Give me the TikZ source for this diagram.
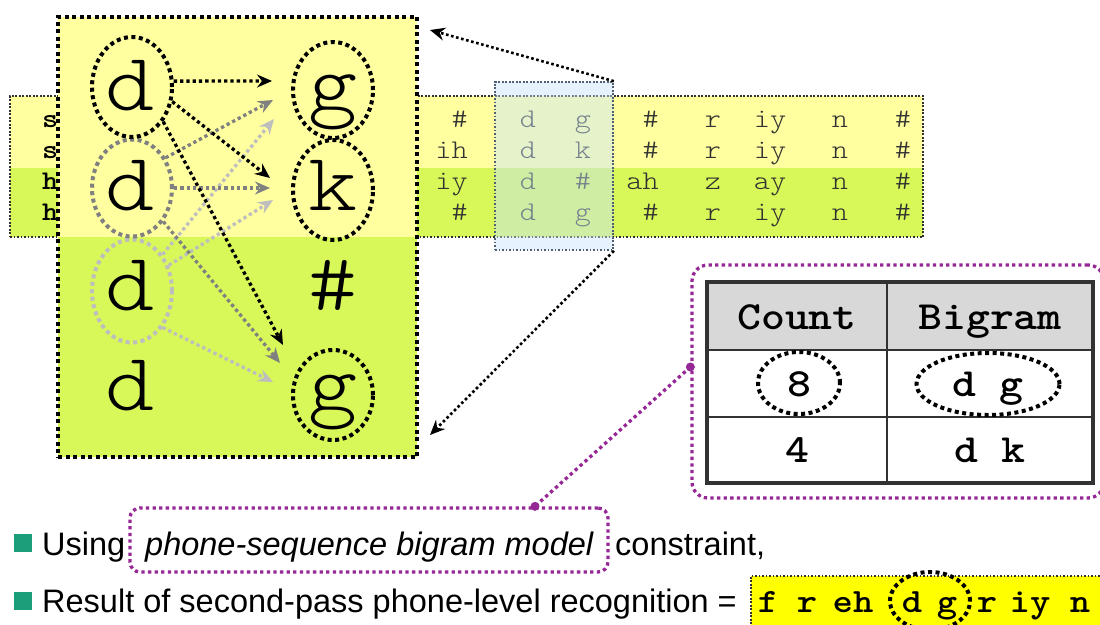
\documentclass[tikz,border=0pt]{standalone}
\usepackage{fontspec}
\setsansfont{Liberation Sans}
\newfontfamily\cour{lmmono10-regular.otf}[BoldFont=lmmonolt10-bold.otf,FakeStretch=1.14]
\newfontfamily\courlt{lmmonolt10-regular.otf}[FakeStretch=1.14]
\usetikzlibrary{arrows.meta,shapes.geometric}

\definecolor{paleyellow}{RGB}{255,255,160}
\definecolor{limegreen}{RGB}{216,247,88}
\definecolor{glassblue}{RGB}{200,228,255}
\definecolor{glassedge}{RGB}{80,95,115}
\definecolor{plum}{RGB}{150,40,150}
\definecolor{bulletgreen}{RGB}{28,158,122}
\definecolor{midgray}{RGB}{128,128,128}
\definecolor{palegray}{RGB}{190,190,190}
\definecolor{headgray}{RGB}{216,216,216}
\definecolor{inkgray}{RGB}{50,50,50}
\definecolor{hiyellow}{RGB}{255,255,0}

\newcommand{\fsz}[1]{\fontsize{#1}{#1}\selectfont}

\tikzset{
  thickdot/.style={line width=4pt, dash pattern=on 4pt off 3.5pt},
  thindot/.style={line width=1.7pt, dash pattern=on 1.7pt off 1.8pt},
  plumdot/.style={draw=plum, line width=3.3pt, dash pattern=on 3.3pt off 3.3pt},
  arr/.style={line width=3.3pt, dash pattern=on 3.3pt off 3pt,
    -{Stealth[length=15pt,width=13pt,inset=5pt]}},
  ring/.style={ellipse, draw, thickdot, minimum width=80pt, minimum height=100pt, inner sep=0pt},
  bigletter/.style={font=\courlt\fsz{82}, anchor=base, inner sep=0pt},
  cell/.style={font=\courlt\fsz{27}, text=inkgray, anchor=base, inner sep=0pt},
  rowlab/.style={font=\cour\bfseries\fsz{27}, anchor=base west, inner sep=0pt},
  tabtext/.style={font=\cour\bfseries\fsz{40}, anchor=base, inner sep=0pt},
  restext/.style={font=\cour\bfseries\fsz{34}, anchor=base, inner sep=0pt},
  sanstext/.style={font=\sffamily\fsz{32.5}, anchor=base west, inner sep=0pt},
  bulletsq/.style={fill=bulletgreen, minimum size=18pt, inner sep=0pt}
}

\begin{document}
\begin{tikzpicture}[x=1pt,y=-1pt]
\useasboundingbox (0,0) rectangle (1100,624);

% ---- phone transcription table ----
\fill[paleyellow] (10,96) rectangle (923,168);
\fill[limegreen] (10,168) rectangle (923,237);
\node[draw=inkgray, thindot, minimum width=913pt, minimum height=141pt, inner sep=0pt] (phtab) at (466.5,166.5) {};

\foreach \yy/\lab/\ca/\cb/\cc/\cd/\ce/\cf/\cg/\ch in
  {127/sp/\#/d/g/\#/r/iy/n/\#, 158/sp/ih/d/k/\#/r/iy/n/\#,
   189/hr/iy/d/\#/ah/z/ay/n/\#, 220/hr/\#/d/g/\#/r/iy/n/\#}{
  \node[rowlab] at (42,\yy) {\lab};
  \node[cell, anchor=base east] at (468,\yy) {\ca};
  \node[cell] at (528,\yy) {\cb};
  \node[cell] at (583,\yy) {\cc};
  \node[cell, anchor=base east] at (659,\yy) {\cd};
  \node[cell] at (713,\yy) {\ce};
  \node[cell] at (770,\yy) {\cf};
  \node[cell] at (840,\yy) {\cg};
  \node[cell] at (903,\yy) {\ch};
}

% highlighted d-column
\node[draw=glassedge, thindot, fill=glassblue, fill opacity=0.45,
      minimum width=118pt, minimum height=168pt, inner sep=0pt] (dgcol) at (554,166) {};

% ---- enlarged view ----
\fill[paleyellow] (58,17) rectangle (417,237);
\fill[limegreen] (58,237) rectangle (417,457);
\node[draw=black, thickdot, minimum width=359pt, minimum height=440pt, inner sep=0pt] (zoombox) at (237.5,237) {};

\node[ring, draw=palegray, minimum height=103pt] (rd3) at (132,291) {};
\node[ring, draw=midgray, minimum height=97pt] (rd2) at (132,188) {};
\node[ring] (rd1) at (132,87) {};
\node[ring, minimum height=96pt] (rg1) at (333,90) {};
\node[ring] (rk) at (333,190) {};
\node[ring, minimum height=90pt] (rg4) at (333,395) {};

\node[bigletter] (ld1) at (130,110) {d};
\node[bigletter] (ld2) at (130,210) {d};
\node[bigletter] (ld3) at (130,310) {d};
\node[bigletter] (ld4) at (130,410) {d};
\node[bigletter] (lg1) at (333,110) {g};
\node[bigletter] (lk) at (333,210) {k};
\node[bigletter] (lh) at (333,310) {\#};
\node[bigletter] (lg4) at (333,410) {g};

\coordinate (hA1) at (272,81);  \coordinate (hA2) at (270,178); \coordinate (hA3) at (283,345);
\coordinate (hB1) at (273,100); \coordinate (hB2) at (270,188); \coordinate (hB3) at (280,363);
\coordinate (hC1) at (274,119); \coordinate (hC2) at (273,200); \coordinate (hC3) at (273,382);

\draw[arr, draw=palegray] (rd3.50) -- (hC1);
\draw[arr, draw=palegray] (rd3.35) -- (hC2);
\draw[arr, draw=palegray] (rd3.-50) -- (hC3);
\draw[arr, draw=midgray] (rd2.42) -- (hB1);
\draw[arr, draw=midgray] (rd2.0) -- (hB2);
\draw[arr, draw=midgray] (rd2.-47) -- (hB3);
\draw[arr, draw=black] (rd1.8) -- (hA1);
\draw[arr, draw=black] (rd1.-20) -- (hA2);
\draw[arr, draw=black] (rd1.-48) -- (hA3);

% pointers from the highlighted column to the enlarged view
\coordinate (zt) at (430,30);
\coordinate (zb) at (430,435);
\draw[arr, line width=2.6pt, dash pattern=on 2.6pt off 2.6pt] (dgcol.north east) -- (zt);
\draw[arr, line width=2.6pt, dash pattern=on 2.6pt off 2.6pt] (dgcol.south east) -- (zb);

% ---- bigram count table ----
\node[plumdot, rounded corners=16pt, minimum width=412pt, minimum height=233pt, inner sep=0pt] (pbig) at (898,381.5) {};
\fill[headgray] (707,282) rectangle (1093,350);
\draw[inkgray, line width=1.4pt] (887,282) -- (887,483) (707,350) -- (1093,350) (707,417) -- (1093,417);
\node[draw=inkgray, line width=3.5pt, minimum width=386pt, minimum height=201pt, inner sep=0pt] (bgtab) at (900,382.5) {};

\node[tabtext] (tcount) at (797,329) {Count};
\node[tabtext] (tbigram) at (990,329) {Bigram};
\node[tabtext] (t8) at (799,396) {8};
\node[tabtext] (tdg) at (988,396) {d g};
\node[tabtext] (t4) at (797,462) {4};
\node[tabtext] (tdk) at (990,462) {d k};
\node[ellipse, draw, thickdot, minimum width=82pt, minimum height=62pt, inner sep=0pt] (e8) at (799,383) {};
\node[ellipse, draw, thickdot, minimum width=143pt, minimum height=62pt, inner sep=0pt] (edg) at (988,384) {};

% ---- bullet lines ----
\node[bulletsq] (b1) at (23,543) {};
\node[bulletsq] (b2) at (23,601) {};
\node[sanstext] (using) at (42,555) {Using};
\node[plumdot, rounded corners=10pt, minimum width=478pt, minimum height=64pt, inner sep=0pt] (psmall) at (369,540) {};
\node[sanstext] (model) at (145,555) {\itshape phone-sequence bigram model};
\node[sanstext] (constr) at (615,555) {constraint,};
\node[sanstext] (result) at (42,612) {Result of second-pass phone-level recognition =};

% link between the model phrase and the table
\coordinate (pa) at ([yshift=14.5pt]pbig.west);
\coordinate (pb) at ([xshift=166pt]psmall.north);
\draw[plumdot] (pa) -- (pb);
\fill[plum] (pa) circle (4.5pt) (pb) circle (4.5pt);

% ---- recognised phone string ----
\node[draw=inkgray, thindot, fill=hiyellow, minimum width=360pt, minimum height=56pt, inner sep=0pt, anchor=north west] (resbox) at (750,575) {};
\foreach \xx/\ph in {768/f, 807/r, 853/eh, 912/d, 947/g, 987/r, 1030/iy, 1080/n}{
  \node[restext] at (\xx,612) {\ph};
}
\node[ellipse, draw, thickdot, minimum width=80pt, minimum height=58pt, inner sep=0pt] (edg2) at (930,601) {};
\end{tikzpicture}
\end{document}
